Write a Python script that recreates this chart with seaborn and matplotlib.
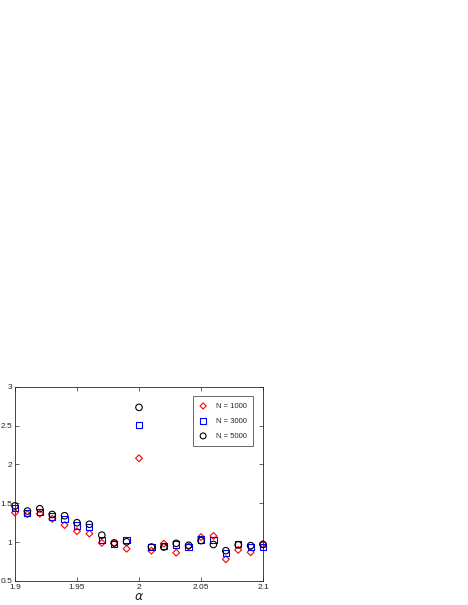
import matplotlib
matplotlib.use("Agg")
import matplotlib.pyplot as plt
import numpy as np
import pandas as pd
import seaborn as sns

# values
alpha = [1.90, 1.91, 1.92, 1.93, 1.94, 1.95, 1.96, 1.97, 1.98, 1.99, 2.00,
         2.01, 2.02, 2.03, 2.04, 2.05, 2.06, 2.07, 2.08, 2.09, 2.10]
n1000 = [1.38, 1.36, 1.365, 1.30, 1.22, 1.14, 1.11, 0.99, 0.985, 0.915, 2.08,
         0.89, 0.98, 0.864, 0.945, 1.065, 1.08, 0.78, 0.90, 0.87, 0.975]
n3000 = [1.44, 1.38, 1.39, 1.33, 1.30, 1.215, 1.19, 1.03, 0.975, 1.03, 2.51,
         0.937, 0.95, 0.97, 0.94, 1.035, 1.03, 0.865, 0.98, 0.94, 0.935]
n5000 = [1.467, 1.40, 1.43, 1.356, 1.34, 1.25, 1.23, 1.09, 0.99, 1.005, 2.735,
         0.937, 0.937, 0.985, 0.96, 1.02, 0.97, 0.89, 0.965, 0.955, 0.97]

xticks = [1.9, 1.95, 2.0, 2.05, 2.1]
xticklabels = ["1.9", "1.95", "2", "2.05", "2.1"]
yticks = [0.5, 1, 1.5, 2, 2.5, 3]
yticklabels = ["0.5", "1", "1.5", "2", "2.5", "3"]

sns.set_style("ticks", {"xtick.direction": "in", "ytick.direction": "in"})
plt.rcParams["font.family"] = ["Liberation Sans", "DejaVu Sans"]

fig = plt.figure(figsize=(4.68, 6.05), dpi=100)
ax = fig.add_axes([0.032, 0.0397, 0.530, 0.321])

series = [
    (n1000, "N = 1000", "D", "#ff0000", 12),
    (n3000, "N = 3000", "s", "#0000ff", 20),
    (n5000, "N = 5000", "o", "#000000", 22),
]
for vals, lab, mk, col, sz in series:
    sns.scatterplot(x=alpha, y=vals, ax=ax, marker=mk, s=sz,
                    facecolors="none", edgecolors=col, linewidth=0.8,
                    label=lab, clip_on=False, zorder=3)

ax.set_xlim(1.9, 2.1)
ax.set_ylim(0.5, 3)
ax.set_xticks(xticks)
ax.set_xticklabels(xticklabels)
ax.set_yticks(yticks)
ax.set_yticklabels(yticklabels)
ax.tick_params(axis="both", labelsize=6, length=3, width=0.5, colors="#262626",
               top=True, right=True, pad=2)
for sp in ax.spines.values():
    sp.set_linewidth(0.6)
    sp.set_color("#262626")
    sp.set_visible(True)

ax.set_xlabel(r"$\alpha$", fontsize=9, labelpad=0)
ax.set_ylabel("")

leg = ax.legend(loc="upper right", bbox_to_anchor=(0.96, 0.95), fontsize=5.5,
                frameon=True, fancybox=False, edgecolor="#262626",
                handlelength=1.0, handletextpad=1.2, labelspacing=1.0,
                borderpad=0.8, borderaxespad=0, markerscale=0.9)
leg.get_frame().set_linewidth(0.6)

fig.savefig("out.png", dpi=100)
